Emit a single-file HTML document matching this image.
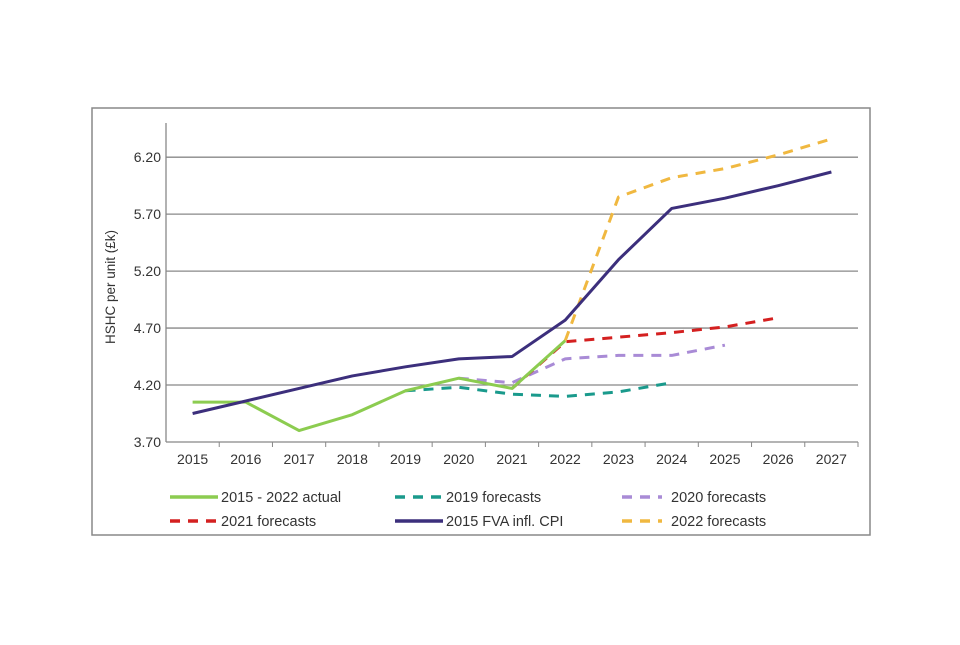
<!DOCTYPE html>
<html><head><meta charset="utf-8"><style>
body{margin:0;background:#fff;}
svg text{font-family:"Liberation Sans",sans-serif;fill:#333;}
</style></head><body>
<svg id="chart" width="960" height="640" xmlns="http://www.w3.org/2000/svg">
<rect x="92" y="108" width="778" height="427" fill="#fff" stroke="#888" stroke-width="1.5"/>
<g id="grid"></g><g id="axes"></g><g id="series"></g><g id="legend"></g>
<text x="0" y="0" transform="translate(115,287) rotate(-90)" text-anchor="middle" font-size="13.5">HSHC per unit (£k)</text>
</svg>
<script>
const years=["2015","2016","2017","2018","2019","2020","2021","2022","2023","2024","2025","2026","2027"];
const yTicks=[3.7,4.2,4.7,5.2,5.7,6.2];
const actual=[4.05,4.05,3.80,3.94,4.15,4.26,4.17,4.59,null,null,null,null,null];
const fva=[3.95,4.06,4.17,4.28,4.36,4.43,4.45,4.77,5.30,5.75,5.84,5.95,6.07];
const f2019=[null,null,null,null,4.15,4.18,4.12,4.10,4.14,4.22,null,null,null];
const f2020=[null,null,null,null,null,4.26,4.22,4.43,4.46,4.46,4.55,null,null];
const f2021=[null,null,null,null,null,null,4.17,4.58,4.62,4.66,4.71,4.79,null];
const f2022=[null,null,null,null,null,null,null,4.59,5.85,6.02,6.10,6.22,6.36];
const NS="http://www.w3.org/2000/svg";
const L=166,R=858,T=123,B=442,yMin=3.7,yMax=6.5;
const bw=(R-L)/years.length;
const xs=i=>L+bw*(i+0.5);
const ys=v=>B-(v-yMin)/(yMax-yMin)*(B-T);
function mk(tag,attrs,parent){const e=document.createElementNS(NS,tag);for(const k in attrs)e.setAttribute(k,attrs[k]);document.getElementById(parent).appendChild(e);return e;}
yTicks.forEach(v=>{
 if(v>yMin){const g=mk('line',{x1:L,x2:R,y1:ys(v),y2:ys(v),stroke:'#888','stroke-width':1.3},'grid');
 
 }
 const t=mk('text',{x:L-5,y:ys(v)+5,'text-anchor':'end','font-size':14},'axes');t.textContent=v.toFixed(2);
 
 
});
let a=mk('line',{x1:L,x2:L,y1:T,y2:B,stroke:'#888','stroke-width':1.3},'axes');


a=mk('line',{x1:L,x2:R,y1:B,y2:B,stroke:'#888','stroke-width':1.3},'axes');


years.forEach((y,i)=>{
 const tk=mk('line',{x1:L+bw*(i+1),x2:L+bw*(i+1),y1:B,y2:B+5,stroke:'#888'},'axes');
 
 
 const t=mk('text',{x:xs(i),y:B+22,'text-anchor':'middle','font-size':14},'axes');t.textContent=y;
 
 
});
const series=[
 {d:f2019,c:'#1a9a8c',dash:'10,8',n:'series-2019-forecasts'},
 {d:f2020,c:'#a98bd6',dash:'10,8',n:'series-2020-forecasts'},
 {d:f2021,c:'#d42020',dash:'10,8',n:'series-2021-forecasts'},
 {d:f2022,c:'#f0b840',dash:'10,8',n:'series-2022-forecasts'},
 {d:actual,c:'#8ccc50',dash:'',n:'series-actual'},
 {d:fva,c:'#3c2f7c',dash:'',n:'series-fva-cpi'}];
series.forEach(s=>{
 const pts=[];s.d.forEach((v,i)=>{if(v!==null)pts.push(xs(i)+','+ys(v));});
 const p=mk('polyline',{points:pts.join(' '),fill:'none',stroke:s.c,'stroke-width':3,'stroke-dasharray':s.dash,'stroke-linejoin':'round'},'series');
 
 
});
const leg=[
 {x:170,y:497,c:'#8ccc50',dash:'',t:'2015 - 2022 actual'},
 {x:395,y:497,c:'#1a9a8c',dash:'10,8',t:'2019 forecasts'},
 {x:622,y:497,c:'#a98bd6',dash:'10,8',t:'2020 forecasts'},
 {x:170,y:521,c:'#d42020',dash:'10,8',t:'2021 forecasts'},
 {x:395,y:521,c:'#3c2f7c',dash:'',t:'2015 FVA infl. CPI'},
 {x:622,y:521,c:'#f0b840',dash:'10,8',t:'2022 forecasts'}];
leg.forEach(l=>{
 const w=l.x===622?40:48;
 const ln=mk('line',{x1:l.x,x2:l.x+w,y1:l.y,y2:l.y,stroke:l.c,'stroke-width':3.5,'stroke-dasharray':l.dash},'legend');
 
 
 const t=mk('text',{x:l.x+w+(l.x===622?9:3),y:l.y+5,'font-size':14.5},'legend');t.textContent=l.t;
 
 
});
</script>
</body></html>
